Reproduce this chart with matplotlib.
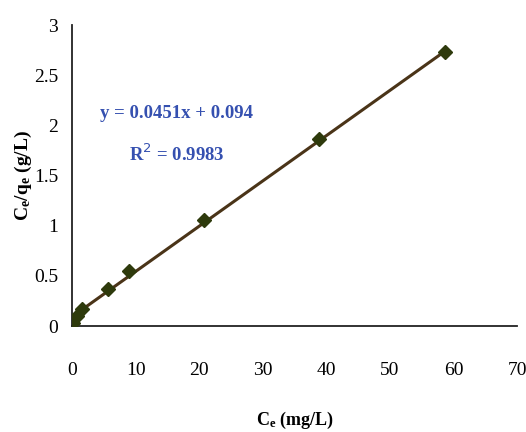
import numpy as np
import matplotlib.pyplot as plt

# Equilibrium data
ce = [0.2, 0.8, 1.6, 5.6, 9.0, 20.7, 38.9, 58.7]          # Ce (mg/L)
ce_qe = [0.03, 0.10, 0.17, 0.37, 0.55, 1.06, 1.86, 2.73]  # Ce/qe (g/L)

slope = 0.0451
intercept = 0.094
eq_text = "y = 0.0451x + 0.094"
r2_text = "R$^2$ = 0.9983"

x_ticks = [0, 10, 20, 30, 40, 50, 60, 70]
y_ticks = [0, 0.5, 1, 1.5, 2, 2.5, 3]
y_tick_labels = ["0", "0.5", "1", "1.5", "2", "2.5", "3"]

plt.rcParams['font.family'] = ['Liberation Serif', 'DejaVu Serif']

fig = plt.figure(figsize=(5.26, 4.32), dpi=100)
ax = fig.add_axes([0.137, 0.245, 0.846, 0.697])

# trend line
xs = np.array([min(ce), max(ce)])
ax.plot(xs, slope * xs + intercept, color='#4a3418', lw=2.2, zorder=2)
ax.plot(ce, ce_qe, linestyle='none', marker='D', ms=7, color='#2e3a0c', zorder=3)

ax.set_xlim(0, 70)
ax.set_ylim(0, 3)
ax.set_xticks(x_ticks)
ax.set_yticks(y_ticks)
ax.set_yticklabels(y_tick_labels)
ax.tick_params(axis='both', length=0, labelsize=14)
ax.tick_params(axis='x', pad=26)
ax.tick_params(axis='y', pad=10)

for s in ['top', 'right']:
    ax.spines[s].set_visible(False)
for s in ['left', 'bottom']:
    ax.spines[s].set_linewidth(1.3)
    ax.spines[s].set_color('#222222')

ax.set_xlabel(r"C$\mathregular{_e}$ (mg/L)", fontsize=13, fontweight='bold', labelpad=22)
ax.set_ylabel(r"C$\mathregular{_e}$/q$\mathregular{_e}$ (g/L)", fontsize=14,
              fontweight='bold')
ax.yaxis.set_label_coords(-0.085, 0.5)

ax.text(16.5, 2.12, eq_text, color='#3550b0', fontsize=13.5, fontweight='bold',
        ha='center', va='center')
ax.text(16.5, 1.71, r2_text, color='#3550b0', fontsize=13.5, fontweight='bold',
        ha='center', va='center')

fig.savefig('out.png', dpi=100)
